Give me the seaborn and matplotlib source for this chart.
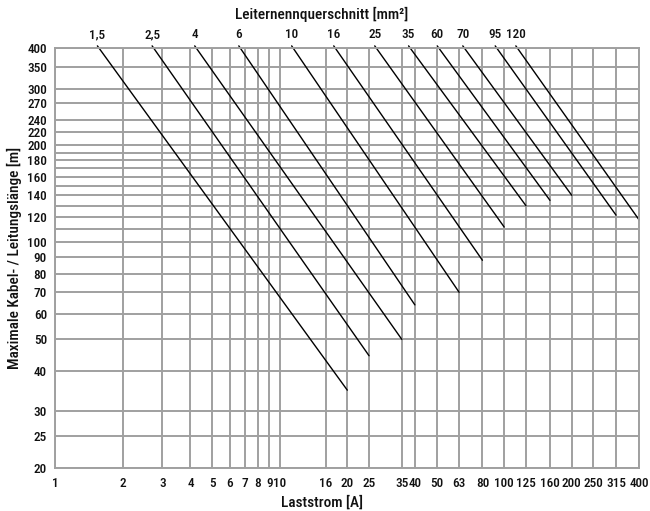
'''
Maximale Kabel-/Leitungslaenge ueber Laststrom, je Leiternennquerschnitt
'''

import numpy as np
import pandas as pd
import seaborn as sns
import matplotlib.pyplot as plt
from matplotlib.ticker import FixedLocator, NullLocator, NullFormatter

# Leiternennquerschnitt [mm²]
sections = ['1,5', '2,5', '4', '6', '10', '16', '25', '35', '60', '70', '95', '120']
# each line runs from (current_start, length_start) down to (current_end, length_end)
current_start = [1.54, 2.70, 4.18, 6.57, 11.3, 17.4, 26.5, 37.5, 50.3, 65.4, 91.2, 112.7]
length_start = [407, 407, 407, 407, 407, 407, 407, 407, 407, 407, 407, 407]
current_end = [20, 25, 35, 40, 63, 80, 100, 125, 160, 200, 315, 400]
length_end = [34.8, 44.5, 50, 64, 70, 88, 111.6, 130, 135, 140, 121.5, 117.2]

x_ticks = [1, 2, 3, 4, 5, 6, 7, 8, 9, 10, 16, 20, 25, 35, 40, 50, 63, 80,
           100, 125, 160, 200, 250, 315, 400]
y_ticks = [20, 25, 30, 40, 50, 60, 70, 80, 90, 100, 120, 140, 160, 180,
           200, 220, 240, 270, 300, 350, 400]
y_minor = [110, 130, 150, 170, 190]

GRID = '#a0a0a0'
TXT = '#111111'

# long form table, two points per line
rows = []
for s, i0, l0, i1, l1 in zip(sections, current_start, length_start, current_end, length_end):
    rows.append({'section': s, 'I': i0, 'L': l0})
    rows.append({'section': s, 'I': i1, 'L': l1})
df = pd.DataFrame(rows)

sns.set_style('white')
plt.rcParams['font.family'] = ['Roboto Condensed', 'Archivo Narrow', 'Asap Condensed', 'DejaVu Sans']
plt.rcParams['font.weight'] = 'medium'
plt.rcParams['font.size'] = 9

fig = plt.figure(figsize=(6.5, 5.11), dpi=100)
ax = fig.add_axes([55.3 / 650, 1 - 467.7 / 511, 584 / 650, 419.4 / 511])
ax.set_xscale('log')
ax.set_yscale('log')

sns.lineplot(data=df, x='I', y='L', units='section', estimator=None,
             color='black', linewidth=1.0, ax=ax, clip_on=False, legend=False)

ax.set_xlim(1, 400)
ax.set_ylim(20, 400)

ax.xaxis.set_major_locator(FixedLocator(x_ticks))
ax.set_xticklabels([str(t) for t in x_ticks])
ax.xaxis.set_minor_locator(NullLocator())
ax.yaxis.set_major_locator(FixedLocator(y_ticks))
ax.set_yticklabels([str(t) for t in y_ticks])
ax.yaxis.set_minor_locator(FixedLocator(y_minor))
ax.yaxis.set_minor_formatter(NullFormatter())

ax.grid(True, which='both', color=GRID, linewidth=1.4)
ax.set_axisbelow(True)
for sp in ax.spines.values():
    sp.set_color(GRID)
    sp.set_linewidth(1.4)

ax.tick_params(axis='x', which='major', length=5, width=1.4, color=GRID,
               pad=2, labelsize=9.5, labelcolor=TXT)
ax.tick_params(axis='y', which='both', length=0, pad=6, labelsize=9.5,
               labelcolor=TXT)
ax.set_xlabel('')
ax.set_ylabel('')

for s, i0 in zip(sections, current_start):
    ax.annotate(s, (i0, 400), xytext=(0, 5), textcoords='offset points',
                ha='center', va='bottom', fontsize=9.5, color=TXT)

fig.text(322 / 650, 1 - 14 / 511, 'Leiternennquerschnitt [mm²]',
         ha='center', va='center', fontsize=11, color=TXT)
fig.text(322 / 650, 1 - 502 / 511, 'Laststrom [A]',
         ha='center', va='center', fontsize=11, color=TXT)
fig.text(14 / 650, 1 - 258 / 511, 'Maximale Kabel- / Leitungslänge [m]',
         ha='center', va='center', rotation=90, fontsize=11, color=TXT)

fig.savefig('out.png', dpi=100)
